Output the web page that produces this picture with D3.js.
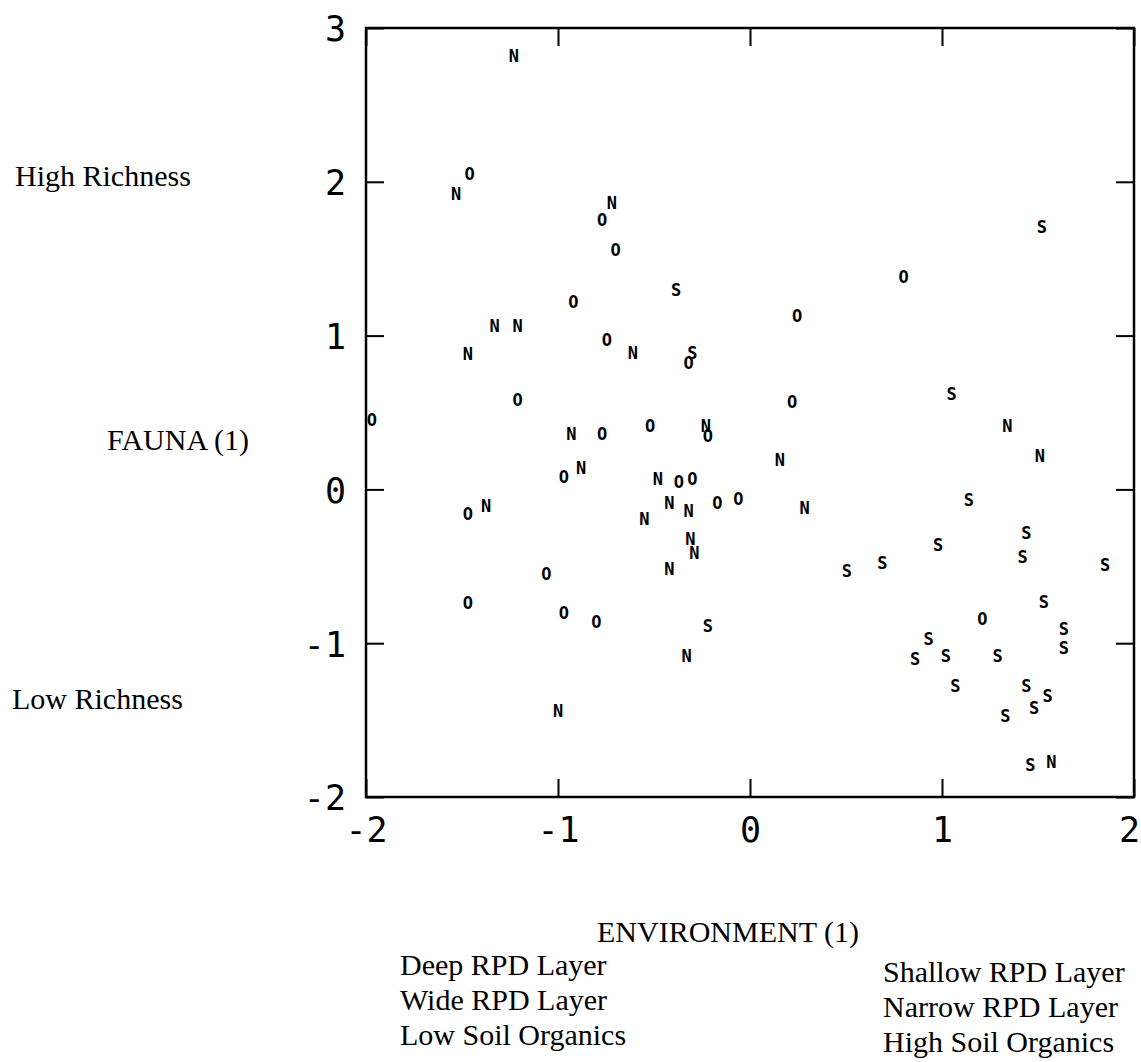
<!DOCTYPE html>
<html>
<head>
<meta charset="utf-8">
<script src="https://cdn.jsdelivr.net/npm/d3@7"></script>
<style>
  body { margin: 0; background: #fff; }
  svg { display: block; }
</style>
</head>
<body>
<div id="chart"></div>
<script>
// sample scores, [environment axis 1, fauna axis 1]
const groupN = [
    [-1.23, 2.82], [-1.53, 1.92], [-0.72, 1.86], [-1.33, 1.06], [-1.21, 1.06],
    [-1.47, 0.88], [-0.61, 0.89], [-0.93, 0.36], [-0.23, 0.41], [-0.88, 0.14],
    [-0.48, 0.07], [-1.375, -0.11], [-0.42, -0.09], [-0.32, -0.14], [-0.55, -0.19],
    [-0.31, -0.32], [-0.29, -0.41], [-0.42, -0.52], [-0.33, -1.08], [-1.00, -1.44],
    [1.34, 0.41], [1.51, 0.22], [0.155, 0.19], [0.285, -0.12], [1.57, -1.77]
];
const groupO = [
    [-1.46, 2.05], [-0.77, 1.75], [-0.70, 1.56], [0.80, 1.38], [-0.92, 1.22],
    [-0.745, 0.97], [-0.32, 0.82], [-1.21, 0.58], [-1.97, 0.45], [-0.77, 0.36],
    [-0.52, 0.41], [-0.22, 0.35], [-0.97, 0.08], [-0.37, 0.05], [-0.30, 0.07],
    [-1.47, -0.16], [-0.17, -0.09], [-0.06, -0.06], [-1.06, -0.55], [-1.47, -0.74],
    [-0.97, -0.80], [-0.80, -0.86], [0.245, 1.13], [0.22, 0.57], [1.21, -0.84]
];
const groupS = [
    [1.52, 1.71], [-0.385, 1.30], [-0.30, 0.89], [1.05, 0.62], [1.14, -0.07],
    [1.44, -0.28], [0.98, -0.36], [1.42, -0.44], [1.85, -0.49], [0.505, -0.53],
    [0.69, -0.48], [-0.22, -0.89], [1.53, -0.73], [1.635, -0.91], [1.635, -1.03],
    [0.93, -0.97], [0.86, -1.10], [1.02, -1.08], [1.29, -1.08], [1.07, -1.28],
    [1.44, -1.28], [1.55, -1.34], [1.48, -1.42], [1.33, -1.47], [1.46, -1.79]
];

const xTicks = [-2, -1, 0, 1, 2];
const yTicks = [-2, -1, 0, 1, 2, 3];

const xTitle = "ENVIRONMENT (1)";
const yTitle = "FAUNA (1)";
const yHighLabel = "High Richness";
const yLowLabel = "Low Richness";
const legendLeft = ["Deep RPD Layer", "Wide RPD Layer", "Low Soil Organics"];
const legendRight = ["Shallow RPD Layer", "Narrow RPD Layer", "High Soil Organics"];

const width = 1141;
const height = 1062;
const box = { left: 366, right: 1134, top: 28, bottom: 797 };

const svg = d3.select("#chart")
    .append("svg")
    .attr("width", width)
    .attr("height", height);

const x = d3.scaleLinear().domain([-2, 2]).range([box.left, box.right]);
const y = d3.scaleLinear().domain([-2, 3]).range([box.bottom, box.top]);

const tickFont = "'DejaVu Sans Mono', monospace";
const serif = "'Liberation Serif', 'Times New Roman', serif";

// axes - ticks point inward on all four sides
function styleAxis(g) {
    g.select(".domain").remove();
    g.selectAll(".tick line").attr("stroke", "#000").attr("stroke-width", 2);
    g.selectAll("text")
        .attr("fill", "#000")
        .style("font-family", tickFont)
        .style("font-size", "35px");
}

svg.append("g")
    .attr("transform", `translate(0,${box.bottom})`)
    .call(d3.axisBottom(x).tickValues(xTicks).tickSize(-18).tickFormat(d => String(d)))
    .call(styleAxis)
    .call(g => g.selectAll("text").attr("y", 45).attr("dy", null))
    // keep the last label inside the page, as in the original
    .call(g => g.selectAll("text").filter(d => d === 2).attr("x", -5));

svg.append("g")
    .attr("transform", `translate(${box.left},0)`)
    .call(d3.axisLeft(y).tickValues(yTicks).tickSize(-18).tickFormat(d => String(d)))
    .call(styleAxis)
    .call(g => g.selectAll("text").attr("x", -20).attr("dy", "0.37em"));

svg.append("g")
    .attr("transform", `translate(0,${box.top})`)
    .call(d3.axisTop(x).tickValues(xTicks).tickSize(-18).tickFormat(""))
    .call(styleAxis);

svg.append("g")
    .attr("transform", `translate(${box.right},0)`)
    .call(d3.axisRight(y).tickValues(yTicks).tickSize(-18).tickFormat(""))
    .call(styleAxis);

svg.append("rect")
    .attr("x", box.left)
    .attr("y", box.top)
    .attr("width", box.right - box.left)
    .attr("height", box.bottom - box.top)
    .attr("fill", "none")
    .attr("stroke", "#000")
    .attr("stroke-width", 2.5);

// letter markers
const groups = [
    { letter: "N", pts: groupN },
    { letter: "O", pts: groupO },
    { letter: "S", pts: groupS }
];

groups.forEach(grp => {
    svg.append("g")
        .selectAll("text")
        .data(grp.pts)
        .join("text")
        .attr("x", d => x(d[0]))
        .attr("y", d => y(d[1]))
        .attr("dy", "0.36em")
        .attr("text-anchor", "middle")
        .style("font-family", tickFont)
        .style("font-weight", "bold")
        .style("font-size", "17px")
        .text(grp.letter);
});

// side and bottom labels
function label(txt, px, py) {
    svg.append("text")
        .attr("x", px)
        .attr("y", py)
        .style("font-family", serif)
        .style("font-size", "30px")
        .attr("fill", "#000")
        .text(txt);
}

label(yHighLabel, 15, 186);
label(yTitle, 107, 450);
label(yLowLabel, 12, 709);
label(xTitle, 597, 942);

legendLeft.forEach((t, i) => label(t, 400, 975 + i * 35));
legendRight.forEach((t, i) => label(t, 883, 982 + i * 35));
</script>
</body>
</html>
